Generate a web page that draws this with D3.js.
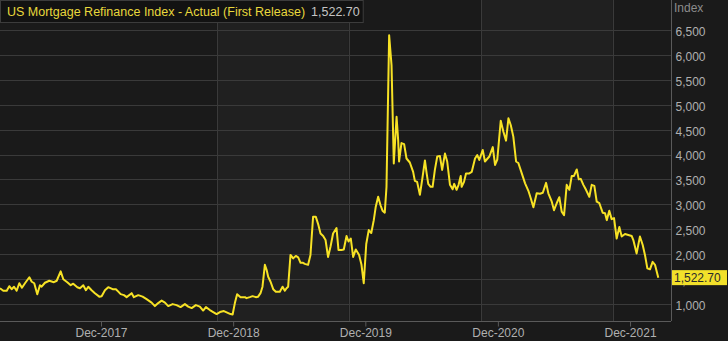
<!DOCTYPE html>
<html>
<head>
<meta charset="utf-8">
<script src="https://cdn.jsdelivr.net/npm/d3@7"></script>
<style>
  html, body { margin: 0; padding: 0; background: #1a1a1a; }
  svg { display: block; font-family: "Liberation Sans", Arial, sans-serif; }
</style>
</head>
<body>
<div id="chart"></div>
<script>
// weekly MBA refinance index (decimal year, index value)
var obsYear = [
  2017.151, 2017.176, 2017.202, 2017.221, 2017.239, 2017.257, 2017.277, 2017.297, 2017.317, 2017.340,
  2017.373, 2017.391, 2017.410, 2017.433, 2017.453, 2017.466, 2017.491, 2017.524, 2017.559, 2017.580,
  2017.610, 2017.630, 2017.660, 2017.686, 2017.705, 2017.736, 2017.756, 2017.781, 2017.801, 2017.819,
  2017.844, 2017.869, 2017.902, 2017.920, 2017.945, 2017.970, 2018.003, 2018.028, 2018.046, 2018.064,
  2018.089, 2018.109, 2018.147, 2018.164, 2018.197, 2018.230, 2018.260, 2018.298, 2018.323, 2018.348,
  2018.374, 2018.399, 2018.424, 2018.457, 2018.487, 2018.517, 2018.550, 2018.575, 2018.601, 2018.633,
  2018.663, 2018.688, 2018.709, 2018.739, 2018.764, 2018.790, 2018.815, 2018.845, 2018.870, 2018.895,
  2018.911, 2018.928, 2018.945, 2018.971, 2019.004, 2019.016, 2019.041, 2019.062, 2019.087, 2019.104,
  2019.122, 2019.137, 2019.155, 2019.168, 2019.180, 2019.198, 2019.218, 2019.238, 2019.268, 2019.289,
  2019.306, 2019.319, 2019.331, 2019.349, 2019.369, 2019.389, 2019.407, 2019.425, 2019.444, 2019.457,
  2019.482, 2019.500, 2019.520, 2019.540, 2019.558, 2019.576, 2019.596, 2019.614, 2019.633, 2019.652,
  2019.671, 2019.697, 2019.712, 2019.735, 2019.752, 2019.773, 2019.788, 2019.805, 2019.823, 2019.843,
  2019.868, 2019.886, 2019.903, 2019.922, 2019.941, 2019.960, 2019.979, 2019.994, 2020.012, 2020.030,
  2020.045, 2020.062, 2020.075, 2020.095, 2020.113, 2020.130, 2020.151, 2020.163, 2020.170, 2020.188,
  2020.208, 2020.226, 2020.251, 2020.276, 2020.289, 2020.306, 2020.327, 2020.344, 2020.365, 2020.378,
  2020.390, 2020.408, 2020.423, 2020.440, 2020.458, 2020.478, 2020.495, 2020.516, 2020.533, 2020.554,
  2020.574, 2020.586, 2020.604, 2020.619, 2020.635, 2020.642, 2020.660, 2020.675, 2020.700, 2020.718,
  2020.743, 2020.760, 2020.775, 2020.801, 2020.818, 2020.851, 2020.877, 2020.894, 2020.911, 2020.937,
  2020.957, 2020.977, 2020.995, 2021.013, 2021.032, 2021.053, 2021.070, 2021.096, 2021.121, 2021.146,
  2021.164, 2021.184, 2021.209, 2021.234, 2021.255, 2021.280, 2021.297, 2021.323, 2021.340, 2021.360,
  2021.380, 2021.398, 2021.416, 2021.436, 2021.456, 2021.474, 2021.491, 2021.512, 2021.527, 2021.542,
  2021.562, 2021.582, 2021.607, 2021.625, 2021.645, 2021.663, 2021.683, 2021.708, 2021.726, 2021.739,
  2021.758, 2021.776, 2021.794, 2021.814, 2021.834, 2021.852, 2021.877, 2021.902, 2021.928, 2021.940,
  2021.965, 2021.990, 2022.011, 2022.028, 2022.046, 2022.066, 2022.086, 2022.104, 2022.129
];
var refiIndex = [
  1310, 1260, 1260, 1350, 1290, 1340, 1260, 1410, 1320, 1410,
  1530, 1440, 1410, 1190, 1370, 1340, 1420, 1460, 1430, 1460,
  1650, 1490, 1430, 1370, 1400, 1330, 1310, 1370, 1270, 1340,
  1270, 1210, 1140, 1150, 1270, 1330, 1290, 1290, 1240, 1190,
  1170, 1130, 1210, 1130, 1170, 1140, 1090, 1020, 950, 1010,
  1060, 1020, 950, 990, 970, 930, 990, 940, 910, 970,
  940, 860, 930, 870, 830, 790, 830, 850, 820, 790,
  780, 1010, 1190, 1130, 1130, 1110, 1130, 1150, 1130, 1140,
  1210, 1340, 1780, 1680, 1540, 1440, 1290, 1240, 1240, 1340,
  1260, 1310, 1340, 1980, 1910, 1960, 1930, 1820, 1820, 1800,
  1780, 1980, 2750, 2750, 2600, 2410, 2360, 2280, 1940, 2150,
  2410, 2520, 2080, 2080, 2090, 2360, 2250, 2310, 1940, 2090,
  1980, 1780, 1410, 2200, 2480, 2420, 2680, 2950, 3150, 2980,
  2870, 2830, 3350, 6400, 5800, 3820, 4760, 4290, 3860, 4230,
  4210, 3920, 3840, 3650, 3470, 3450, 3190, 3490, 3880, 3620,
  3410, 3350, 3350, 3690, 3960, 3970, 3690, 4020, 3860, 3390,
  3300, 3410, 3290, 3390, 3570, 3350, 3450, 3620, 3620, 3650,
  3920, 3990, 3890, 4090, 3860, 3960, 4150, 3790, 3900, 4680,
  4460, 4280, 4730, 4590, 4360, 3860, 3830, 3620, 3420, 3270,
  3120, 2940, 3220, 3210, 3230, 3430, 3220, 3050, 2880, 3020,
  3140, 2850, 2780, 3390, 3290, 3570, 3570, 3700, 3500, 3510,
  3390, 3290, 3150, 3390, 3370, 3050, 3020, 2830, 2820, 2680,
  2870, 2700, 2720, 2310, 2540, 2350, 2400, 2380, 2360, 2280,
  2010, 2350, 2180, 1980, 1710, 1690, 1840, 1780, 1522.70
];

var titleText = "US Mortgage Refinance Index - Actual (First Release)";
var lastLabel = "1,522.70";
var yTicks = [1000, 1500, 2000, 2500, 3000, 3500, 4000, 4500, 5000, 5500, 6000, 6500];
var xTicks = ["2017-12-01", "2018-12-01", "2019-12-01", "2020-12-01", "2021-12-01"];
var bandEdges = [2018.792, 2019.790, 2020.788, 2021.786];   // vertical divider lines
var xExtent = [2017.151, 2022.225];
var yExtent = [650, 7110];

function yearToDate(y) {
  var yr = Math.floor(y);
  var a = Date.UTC(yr, 0, 1), b = Date.UTC(yr + 1, 0, 1);
  return new Date(a + (y - yr) * (b - a));
}

var W = 728, H = 341;
var plotW = 671, plotH = 321;

var data = obsYear.map(function (y, i) { return { date: yearToDate(y), value: refiIndex[i] }; });

var x = d3.scaleUtc()
  .domain(xExtent.map(yearToDate))
  .range([0, plotW]);

var y = d3.scaleLinear()
  .domain(yExtent)
  .range([plotH, 0]);

var svg = d3.select("#chart").append("svg")
  .attr("width", W)
  .attr("height", H);

svg.append("rect")
  .attr("width", W).attr("height", H)
  .attr("fill", "#1a1a1a");

// alternating yearly bands
var edges = [xExtent[0]].concat(bandEdges).concat([xExtent[1]]);
for (var i = 0; i < edges.length - 1; i++) {
  svg.append("rect")
    .attr("x", x(yearToDate(edges[i])))
    .attr("y", 0)
    .attr("width", x(yearToDate(edges[i + 1])) - x(yearToDate(edges[i])))
    .attr("height", plotH)
    .attr("fill", i % 2 === 1 ? "#202020" : "#1a1a1a");
}

// horizontal gridlines
svg.append("g")
  .selectAll("line")
  .data(yTicks)
  .enter().append("line")
    .attr("x1", 0).attr("x2", plotW)
    .attr("y1", function (d) { return Math.round(y(d)) + 0.5; })
    .attr("y2", function (d) { return Math.round(y(d)) + 0.5; })
    .attr("stroke", "#3a3a3a")
    .attr("stroke-width", 1);

// vertical dividers
svg.append("g")
  .selectAll("line")
  .data(bandEdges)
  .enter().append("line")
    .attr("x1", function (d) { return Math.round(x(yearToDate(d))) + 0.5; })
    .attr("x2", function (d) { return Math.round(x(yearToDate(d))) + 0.5; })
    .attr("y1", 0).attr("y2", plotH)
    .attr("stroke", "#3a3a3a")
    .attr("stroke-width", 1);

// x axis
var xAxis = svg.append("g")
  .attr("transform", "translate(0," + (plotH + 0.5) + ")")
  .call(d3.axisBottom(x)
    .tickValues(xTicks.map(function (s) { return new Date(s + "T00:00:00Z"); }))
    .tickFormat(d3.utcFormat("%b-%Y"))
    .tickSizeInner(5)
    .tickSizeOuter(0)
    .tickPadding(2));
xAxis.select(".domain").attr("stroke", "#5a5a5a").attr("d", "M0,0H" + plotW);
xAxis.selectAll(".tick line").attr("stroke", "#5a5a5a");
xAxis.selectAll(".tick text")
  .attr("fill", "#b0b0b0")
  .attr("font-size", "12px")
  .attr("dy", "0.72em");

// y axis on the right
var yAxis = svg.append("g")
  .attr("transform", "translate(" + (plotW + 0.5) + ",0)")
  .call(d3.axisRight(y)
    .tickValues(yTicks)
    .tickFormat(d3.format(",d"))
    .tickSize(0)
    .tickPadding(4));
yAxis.select(".domain").attr("stroke", "#5a5a5a").attr("d", "M0,0V" + plotH);
yAxis.selectAll(".tick text")
  .attr("fill", "#b0b0b0")
  .attr("font-size", "12px")
  .attr("dy", "0.45em");

svg.append("text")
  .attr("x", plotW + 3)
  .attr("y", 12)
  .attr("fill", "#8c8c8c")
  .attr("font-size", "12px")
  .text("Index");

// the series line
var line = d3.line()
  .x(function (d) { return x(d.date); })
  .y(function (d) { return y(d.value); });

svg.append("path")
  .datum(data)
  .attr("fill", "none")
  .attr("stroke", "#f7e225")
  .attr("stroke-width", 2)
  .attr("stroke-linejoin", "round")
  .attr("d", line);

// last value marker on the axis
var last = data[data.length - 1];
var marker = svg.append("g")
  .attr("transform", "translate(" + (plotW + 1) + "," + y(last.value) + ")");
marker.append("rect")
  .attr("x", 0)
  .attr("y", -7.5)
  .attr("width", 55)
  .attr("height", 15)
  .attr("fill", "#f2e02a");
marker.append("text")
  .attr("x", 2)
  .attr("y", 0)
  .attr("dy", "0.36em")
  .attr("fill", "#2a2a2a")
  .attr("font-size", "12px")
  .text(lastLabel);

// title box
var title = svg.append("g");
var tb = title.append("rect")
  .attr("x", 0.5).attr("y", 0.5)
  .attr("height", 22)
  .attr("fill", "#121212")
  .attr("stroke", "#3c3c3c");
var t1 = title.append("text")
  .attr("x", 7).attr("y", 16)
  .attr("fill", "#e9d83c")
  .attr("font-size", "12.5px")
  .text(titleText);
var t1w = t1.node().getComputedTextLength();
var t2 = title.append("text")
  .attr("x", 7 + t1w + 6).attr("y", 16)
  .attr("fill", "#c4c4c4")
  .attr("font-size", "12.5px")
  .text(lastLabel);
tb.attr("width", 7 + t1w + 6 + t2.node().getComputedTextLength() + 3);
</script>
</body>
</html>
